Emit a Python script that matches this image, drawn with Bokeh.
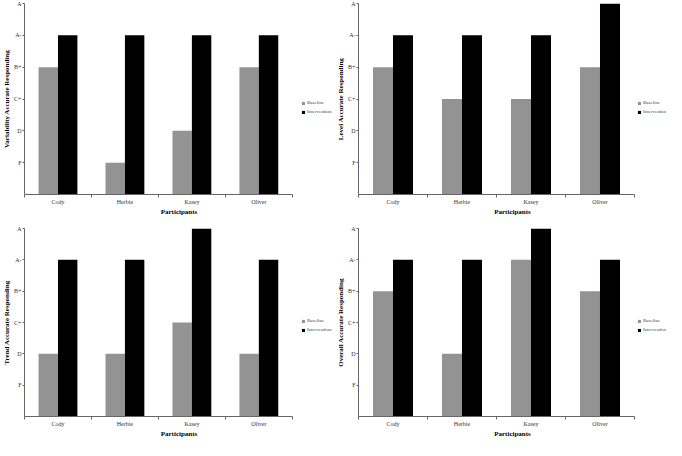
from bokeh.plotting import figure
from bokeh.layouts import column, row
from bokeh.models import FixedTicker, Legend, LegendItem, Range1d
from bokeh.embed import file_html
from bokeh.resources import INLINE

participants = ["Cody", "Herbie", "Kasey", "Oliver"]
grade_ticks = [1, 2, 3, 4, 5, 6]
grade_labels = ["F", "D", "C+", "B+", "A-", "A"]

variability_baseline = [4, 1, 2, 4]
variability_intervention = [5, 5, 5, 5]
level_baseline = [4, 3, 3, 4]
level_intervention = [5, 5, 5, 6]
trend_baseline = [2, 2, 3, 2]
trend_intervention = [5, 5, 6, 5]
overall_baseline = [4, 2, 5, 4]
overall_intervention = [5, 5, 6, 5]

FONT = "Liberation Serif"
GRAY = "#939393"
BAR_W = 0.29


def panel(title, base, inter, width, height, mbl, mbt, mbb, xmax, leg_x, leg_y):
    n = len(participants)
    p = figure(width=width, height=height, output_backend="svg", toolbar_location=None,
               x_range=Range1d(0, xmax), y_range=Range1d(0, 6),
               min_border_left=mbl, min_border_top=mbt, min_border_bottom=mbb,
               min_border_right=0)
    p.outline_line_color = None
    p.xgrid.visible = False
    p.ygrid.visible = False
    xb = [i + 0.5 - BAR_W / 2 for i in range(n)]
    xi = [i + 0.5 + BAR_W / 2 for i in range(n)]
    r1 = p.vbar(x=xb, top=base, width=BAR_W, fill_color=GRAY, line_color=None)
    r2 = p.vbar(x=xi, top=inter, width=BAR_W, fill_color="black", line_color=None)

    centers = [i + 0.5 for i in range(n)]
    p.xaxis.ticker = FixedTicker(ticks=centers, minor_ticks=[float(i) for i in range(n + 1)])
    p.xaxis.major_label_overrides = {c: nm for c, nm in zip(centers, participants)}
    p.xaxis.bounds = (0, n)
    p.xaxis.major_tick_out = 0
    p.xaxis.major_tick_in = 0
    p.xaxis.minor_tick_out = 3
    p.xaxis.minor_tick_in = 0
    p.xaxis.minor_tick_line_color = "#666666"
    p.xaxis.axis_label = "Participants"

    p.yaxis.ticker = FixedTicker(ticks=[float(t) for t in grade_ticks], minor_ticks=[])
    p.yaxis.major_label_overrides = {float(t): l for t, l in zip(grade_ticks, grade_labels)}
    p.yaxis.major_tick_out = 2
    p.yaxis.major_tick_in = 0
    p.yaxis.axis_label = title

    for ax in (p.xaxis[0], p.yaxis[0]):
        ax.axis_line_color = "#666666"
        ax.major_label_text_font = FONT
        ax.major_label_text_font_size = "6px"
        ax.major_label_text_color = "#333333"
        ax.major_label_text_line_height = 1.0
        ax.major_label_standoff = 1
        ax.axis_label_text_font = FONT
        ax.axis_label_text_font_style = "bold"
        ax.axis_label_text_font_size = "7px"
        ax.axis_label_text_color = "black"
        ax.axis_label_text_line_height = 1.0
        ax.axis_label_standoff = 0
    p.xaxis.major_tick_line_color = None
    p.yaxis.major_tick_line_color = "#666666"

    legend = Legend(items=[LegendItem(label="Baseline", renderers=[r1]),
                           LegendItem(label="Intervention", renderers=[r2])],
                    location=(leg_x, leg_y), orientation="vertical")
    legend.glyph_width = 4
    legend.glyph_height = 4
    legend.label_text_font = FONT
    legend.label_text_font_size = "5px"
    legend.label_height = 5
    legend.label_width = 30
    legend.label_standoff = 2
    legend.spacing = 4
    legend.padding = 0
    legend.margin = 0
    legend.border_line_color = None
    legend.background_fill_alpha = 0
    p.add_layout(legend)
    return p


W = 333
p1 = panel("Variability Accurate Responding", variability_baseline, variability_intervention,
           W, 218, 18, 3, 20, 4.615, 277, 80)
p2 = panel("Level Accurate Responding", level_baseline, level_intervention,
           W, 218, 25, 3, 20, 4.464, 279, 80)
p3 = panel("Trend Accurate Responding", trend_baseline, trend_intervention,
           W, 222, 18, 10, 16, 4.615, 277, 84)
p4 = panel("Overall Accurate Responding", overall_baseline, overall_intervention,
           W, 222, 25, 10, 16, 4.464, 279, 84)

layout = column(row(p1, p2), row(p3, p4))
open("out.html", "w").write(file_html(layout, INLINE))
